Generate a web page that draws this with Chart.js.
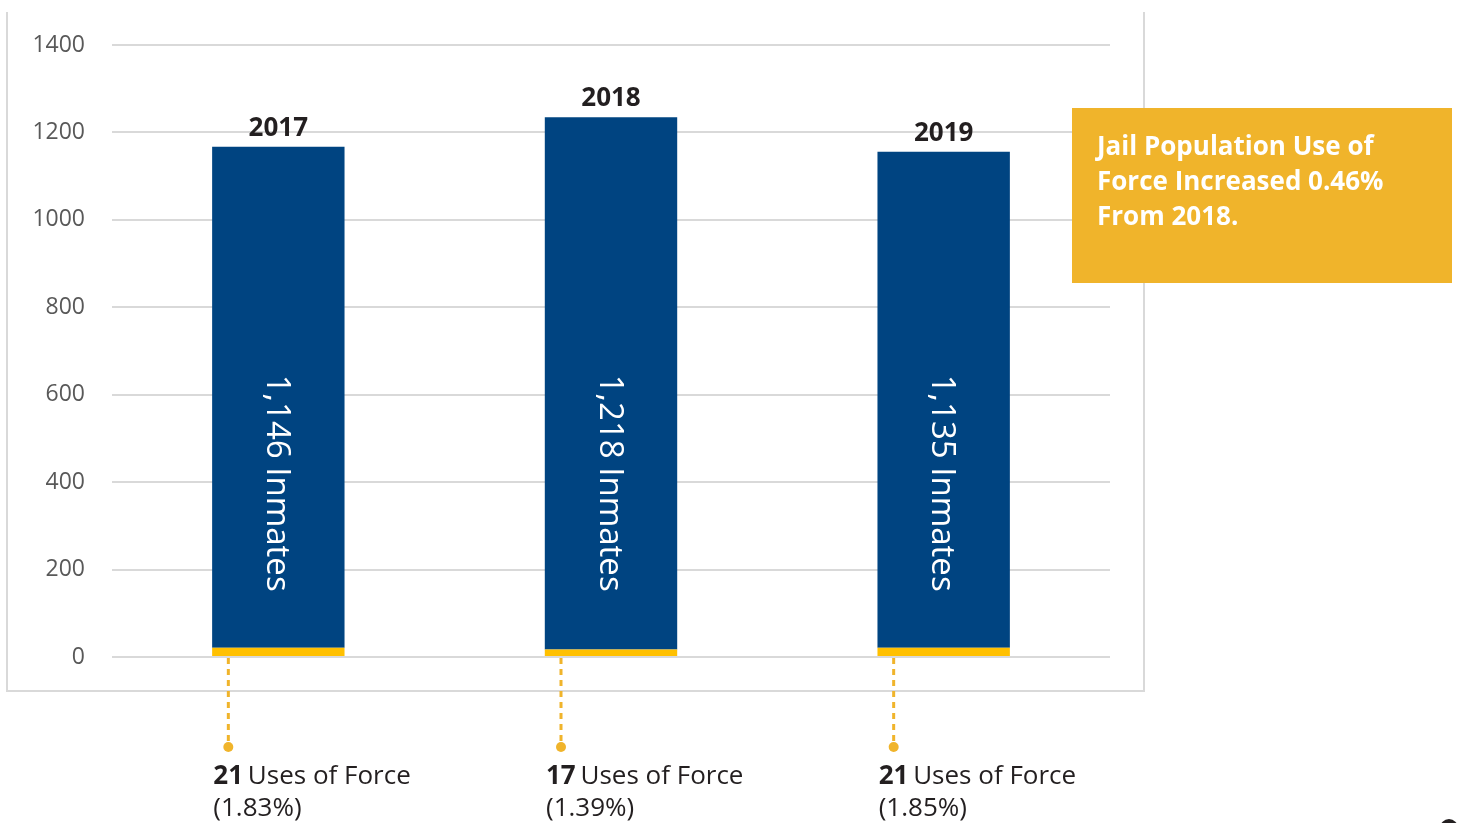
<!DOCTYPE html>
<html>
<head>
<meta charset="utf-8">
<script src="https://cdn.jsdelivr.net/npm/chart.js@4/dist/chart.umd.min.js"></script>
<style>
  html, body { margin: 0; padding: 0; background: #ffffff; }
  #wrap { position: relative; width: 1459px; height: 823px; overflow: hidden; }
  canvas { display: block; }
</style>
</head>
<body>
<div id="wrap"><canvas id="c" width="1459" height="823"></canvas></div>
<script>
const years = ['2017', '2018', '2019'];
const inmates = [1146, 1218, 1135];
const usesOfForce = [21, 17, 21];
const forcePercent = ['1.83%', '1.39%', '1.85%'];
const yMin = 0, yMax = 1400, yStep = 200;
const noteLines = ['Jail Population Use of', 'Force Increased 0.46%', 'From 2018.'];

const FONT = '"Open Sans", "Noto Sans", sans-serif';
const BLUE = '#004481';
const YELLOW = '#FFC000';
const GOLD = '#F0B42B';
const GRID = '#d9d9d9';

const extras = {
  id: 'extras',
  afterDraw(chart) {
    const ctx = chart.ctx;
    const yScale = chart.scales.y;
    const metaF = chart.getDatasetMeta(0);
    const metaI = chart.getDatasetMeta(1);
    ctx.save();

    // frame
    ctx.strokeStyle = GRID;
    ctx.lineWidth = 2;
    ctx.beginPath();
    ctx.moveTo(7, 12); ctx.lineTo(7, 691); ctx.lineTo(1144, 691); ctx.lineTo(1144, 12);
    ctx.stroke();

    years.forEach((yr, i) => {
      const barI = metaI.data[i];
      const barF = metaF.data[i];
      const cx = barI.x;
      const left = barI.x - barI.width / 2;
      const topY = barI.y;

      // year label
      ctx.fillStyle = '#231f20';
      ctx.font = 'bold 26px ' + FONT;
      ctx.textAlign = 'center';
      ctx.textBaseline = 'alphabetic';
      ctx.fillText(yr, cx, topY - 11);

      // rotated inmates label
      ctx.save();
      ctx.translate(cx - 2, yScale.getPixelForValue(400) + 1);
      ctx.rotate(Math.PI / 2);
      ctx.fillStyle = '#ffffff';
      ctx.font = '33px ' + FONT;
      ctx.textAlign = 'center';
      ctx.textBaseline = 'middle';
      ctx.fillText(inmates[i].toLocaleString('en-US') + ' Inmates', 0, 0);
      ctx.restore();

      // dotted leader
      const lx = cx - 50;
      const baseY = barF.base;
      ctx.strokeStyle = GOLD;
      ctx.lineWidth = 3;
      ctx.setLineDash([6, 5]);
      ctx.beginPath();
      ctx.moveTo(lx, baseY + 2);
      ctx.lineTo(lx, 742);
      ctx.stroke();
      ctx.setLineDash([]);
      ctx.fillStyle = GOLD;
      ctx.beginPath();
      ctx.arc(lx, 747, 5, 0, Math.PI * 2);
      ctx.fill();

      // bottom labels
      const tx = lx - 15;
      ctx.textAlign = 'left';
      ctx.textBaseline = 'alphabetic';
      ctx.fillStyle = '#231f20';
      ctx.font = 'bold 26px ' + FONT;
      const num = String(usesOfForce[i]);
      ctx.fillText(num, tx, 784);
      const w = ctx.measureText(num + ' ').width;
      ctx.font = '26px ' + FONT;
      ctx.fillText('Uses of Force', tx + w - 2, 784);
      ctx.fillText('(' + forcePercent[i] + ')', tx, 816);
    });

    // note box
    ctx.fillStyle = GOLD;
    ctx.fillRect(1072, 108, 380, 175);
    ctx.fillStyle = '#ffffff';
    ctx.font = 'bold 26px ' + FONT;
    ctx.textAlign = 'left';
    ctx.textBaseline = 'alphabetic';
    noteLines.forEach((t, k) => ctx.fillText(t, 1097, 155 + k * 35));

    // cut-off page marker
    ctx.fillStyle = '#231f20';
    ctx.beginPath();
    ctx.arc(1449, 828, 9, 0, Math.PI * 2);
    ctx.fill();

    ctx.restore();
  }
};

new Chart(document.getElementById('c'), {
  type: 'bar',
  data: {
    labels: years,
    datasets: [
      { label: 'Uses of Force', data: usesOfForce, backgroundColor: YELLOW, borderWidth: 0 },
      { label: 'Inmates', data: inmates, backgroundColor: BLUE, borderWidth: 0 }
    ]
  },
  options: {
    responsive: false,
    animation: false,
    events: [],
    layout: { padding: { left: 0, right: 349, top: 45, bottom: 166 } },
    plugins: { legend: { display: false }, tooltip: { enabled: false } },
    datasets: { bar: { categoryPercentage: 1, barPercentage: 0.398 } },
    scales: {
      x: { stacked: true, display: false },
      y: {
        stacked: true,
        min: yMin, max: yMax,
        afterFit(scale) { scale.width = 112; },
        border: { display: false },
        grid: { color: GRID, lineWidth: 2, drawTicks: false },
        ticks: {
          stepSize: yStep,
          padding: 27,
          color: '#595959',
          font: { family: FONT, size: 23 },
          callback: (v) => String(v)
        }
      }
    }
  },
  plugins: [extras]
});
</script>
</body>
</html>
